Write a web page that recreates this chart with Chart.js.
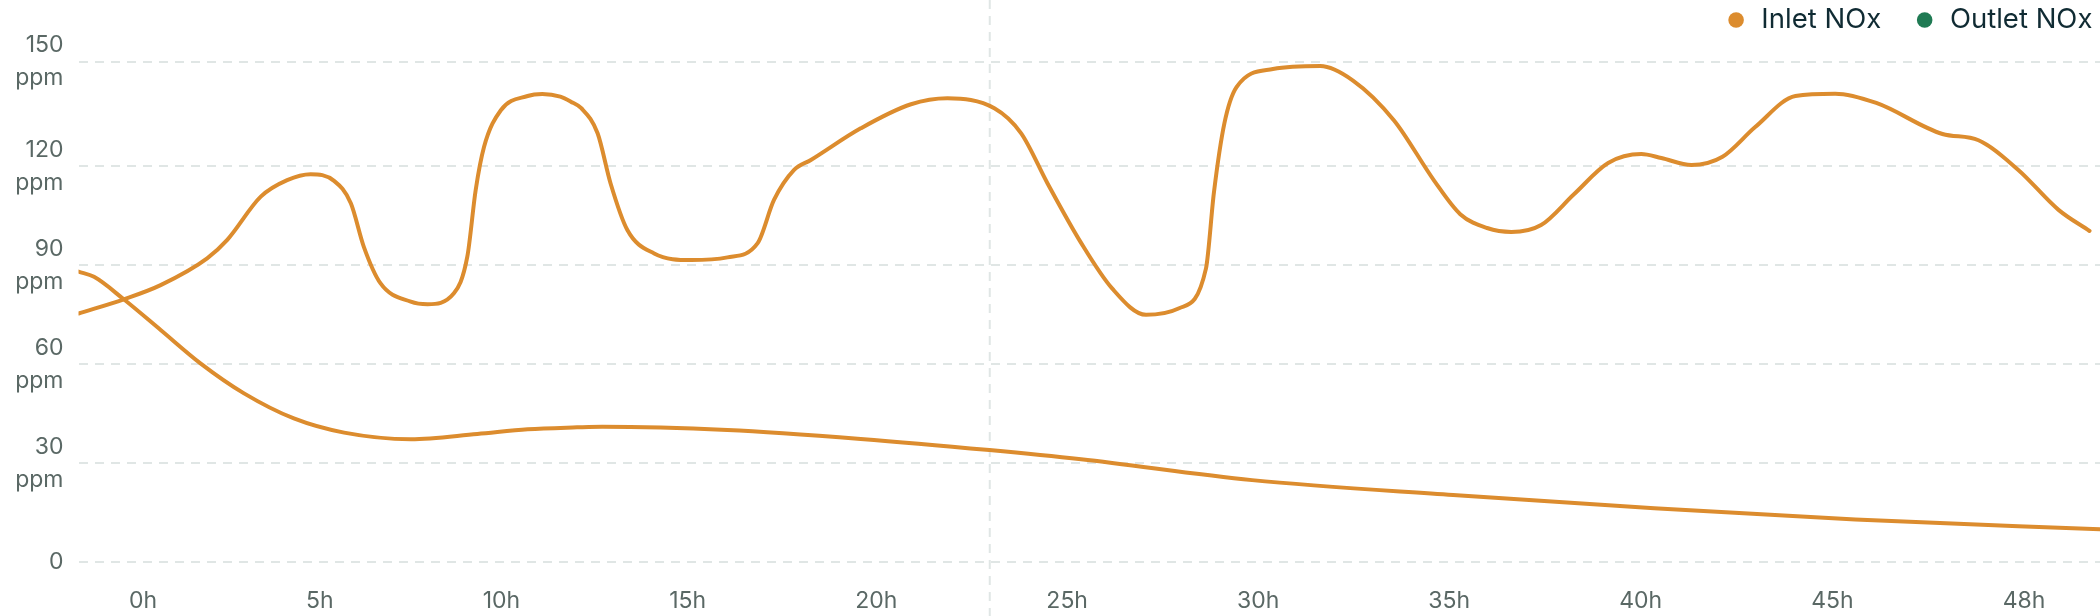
<!DOCTYPE html>
<html>
<head>
<meta charset="utf-8">
<script src="https://cdn.jsdelivr.net/npm/chart.js@4.4.1/dist/chart.umd.min.js"></script>
<style>
  html, body { margin: 0; padding: 0; background: #ffffff; }
  #wrap { width: 2100px; height: 616px; position: relative; }
</style>
</head>
<body>
<div id="wrap"><canvas id="chart"></canvas></div>
<script>
// ---------- data ----------
const seriesNames = ['Inlet NOx', 'Outlet NOx'];

const inletHours = [0.00, 1.08, 1.96, 3.07, 3.55, 4.35, 4.98, 5.54, 6.10, 6.50, 6.81, 7.21, 7.93, 8.33,
  8.96, 9.28, 9.48, 9.68, 10.08, 10.72, 11.07, 11.50, 11.75, 12.00, 12.39, 12.70, 13.10, 13.74, 14.62,
  15.49, 16.21, 16.60, 17.08, 17.48, 18.67, 19.87, 20.74, 21.86, 22.50, 23.13, 23.93, 24.67, 25.48,
  26.27, 26.91, 27.10, 27.35, 27.64, 28.51, 29.64, 30.42, 31.40, 32.36, 32.98, 33.62, 34.20, 34.91,
  35.70, 36.51, 37.30, 37.78, 38.50, 39.24, 40.02, 40.98, 41.93, 42.91, 44.49, 45.35, 46.30, 47.26, 48.00];
const inletValues = [75.4, 79.7, 84.0, 92.1, 97.7, 110.8, 115.8, 117.6, 115.6, 108.8, 95.6, 84.5, 79.0, 78.2,
  81.5, 92.6, 112.8, 125.9, 137.0, 141.3, 141.9, 141.1, 139.6, 137.6, 130.0, 114.8, 100.7, 93.6, 91.6,
  92.4, 96.7, 109.8, 118.9, 121.9, 131.5, 138.8, 140.6, 137.6, 130.0, 114.8, 96.8, 83.0, 75.0,
  77.0, 89.0, 112.0, 133.0, 144.0, 149.5, 150.4, 146.0, 133.9, 115.6, 105.5, 101.3, 100.1, 102.2,
  111.6, 121.0, 123.7, 122.5, 120.4, 122.9, 131.9, 141.3, 142.0, 139.2, 129.8, 127.9, 118.9, 106.8, 100.4];

const outletHours = [0.00, 0.37, 1.08, 1.96, 2.91, 3.95, 5.14, 6.34, 7.93, 9.52, 10.72, 11.90, 12.50,
  15.49, 18.67, 21.74, 23.93, 28.01, 32.81, 37.61, 42.41, 48.25];
const outletValues = [88.1, 86.5, 79.7, 70.4, 60.3, 51.2, 43.6, 39.3, 37.3, 38.9, 40.3, 40.9, 41.1,
  40.1, 37.4, 34.0, 31.2, 24.9, 20.4, 16.4, 13.0, 10.0];

const xTickLabels = ['0h', '5h', '10h', '15h', '20h', '25h', '30h', '35h', '40h', '45h', '48h'];
const yTickValues = [0, 30, 60, 90, 120, 151.7];
const yTickLabels = ['0', ['30', 'ppm'], ['60', 'ppm'], ['90', 'ppm'], ['120', 'ppm'], ['150', 'ppm']];
const markerHour = 21.75;

// ---------- styles / layout ----------
const lineColor = '#DC8C2E';
const legendColors = ['#DC8C2E', '#1F7A53'];
const gridColor = '#E0E6E5';
const tickColor = '#5A6865';
const legendTextColor = '#102B33';
const fontFamily = 'Inter, "Noto Sans", sans-serif';
// the hour labels are spread with equal gaps between them (like a space-between row),
// from the first label centre to the last label centre, given as fractions of the plot width
const labelRowSpan = [0.0319, 0.9624];

function toPoints(xs, ys) { return xs.map((x, i) => ({ x: x, y: ys[i] })); }

const markerLine = {
  id: 'markerLine',
  beforeDatasetsDraw(chart) {
    const ctx = chart.ctx;
    const x = chart.scales.x.getPixelForValue(markerHour);
    ctx.save();
    ctx.strokeStyle = gridColor;
    ctx.lineWidth = 2;
    ctx.setLineDash([9, 7]);
    ctx.beginPath();
    ctx.moveTo(x, 0);
    ctx.lineTo(x, chart.height);
    ctx.stroke();
    ctx.restore();
  }
};

function spreadLabelTicks(scale) {
  const ctx = scale.ctx;
  const W = scale.width || 1;
  ctx.save();
  ctx.font = Chart.helpers.toFont(scale.options.ticks.font).string;
  const widths = xTickLabels.map(t => ctx.measureText(t).width);
  ctx.restore();
  const n = xTickLabels.length;
  const c0 = labelRowSpan[0] * W, c1 = labelRowSpan[1] * W;
  let halfSum = 0;
  for (let i = 0; i < n - 1; i++) halfSum += (widths[i] + widths[i + 1]) / 2;
  const gap = (c1 - c0 - halfSum) / (n - 1);
  const ticks = [{ value: c0 / W }];
  let c = c0;
  for (let i = 1; i < n; i++) {
    c += (widths[i - 1] + widths[i]) / 2 + gap;
    ticks.push({ value: c / W });
  }
  scale.ticks = ticks;
}

new Chart(document.getElementById('chart'), {
  type: 'line',
  data: {
    datasets: [
      {
        label: seriesNames[0],
        data: toPoints(inletHours, inletValues),
        borderColor: lineColor,
        backgroundColor: legendColors[0],
        borderWidth: 4,
        pointRadius: 0,
        fill: false,
        cubicInterpolationMode: 'monotone',
        borderCapStyle: 'round',
        borderJoinStyle: 'round'
      },
      {
        label: seriesNames[1],
        data: toPoints(outletHours, outletValues),
        borderColor: lineColor,
        backgroundColor: legendColors[1],
        borderWidth: 4,
        pointRadius: 0,
        fill: false,
        cubicInterpolationMode: 'monotone',
        borderCapStyle: 'round',
        borderJoinStyle: 'round'
      }
    ]
  },
  options: {
    responsive: true,
    maintainAspectRatio: false,
    devicePixelRatio: 1,
    animation: false,
    events: [],
    layout: { padding: { top: -25.75, right: -1716.8, bottom: -23.7, left: 0.2 } },
    plugins: {
      tooltip: { enabled: false },
      // empty spacer box between legend and plot area
      title: {
        display: true,
        text: '',
        position: 'top',
        weight: 500,
        padding: 0,
        font: { family: fontFamily, size: 17.95, lineHeight: 1 }
      },
      legend: {
        position: 'top',
        align: 'center',
        labels: {
          usePointStyle: true,
          pointStyle: 'circle',
          boxWidth: 23,
          boxHeight: 11,
          padding: 32,
          color: legendTextColor,
          font: { family: fontFamily, size: 27.5 },
          generateLabels(chart) {
            return chart.data.datasets.map((ds, i) => ({
              text: ds.label,
              fillStyle: legendColors[i],
              strokeStyle: legendColors[i],
              lineWidth: 0,
              pointStyle: 'circle',
              fontColor: legendTextColor,
              hidden: false,
              datasetIndex: i
            }));
          }
        }
      }
    },
    scales: {
      x: {
        type: 'linear',
        display: false,
        min: 0,
        max: 48.25,
        grid: { display: false, drawTicks: false },
        ticks: { display: false }
      },
      xLabels: {
        type: 'linear',
        position: 'bottom',
        min: 0,
        max: 1,
        grid: { display: false, drawTicks: false },
        border: { display: false },
        afterBuildTicks: spreadLabelTicks,
        ticks: {
          autoSkip: false,
          maxRotation: 0,
          minRotation: 0,
          padding: 24.9,
          color: tickColor,
          font: { family: fontFamily, size: 23 },
          callback: (v, i) => xTickLabels[i]
        }
      },
      y: {
        type: 'linear',
        min: 0,
        max: 151.7,
        grid: {
          color: gridColor,
          lineWidth: 2,
          drawTicks: false
        },
        border: { display: false, dash: [9, 7] },
        afterBuildTicks(scale) { scale.ticks = yTickValues.map(v => ({ value: v })); },
        ticks: {
          autoSkip: false,
          padding: 15,
          color: tickColor,
          font: { family: fontFamily, size: 23, lineHeight: 1.45 },
          callback: (v, i) => yTickLabels[i]
        }
      }
    }
  },
  plugins: [markerLine]
});
</script>
</body>
</html>
